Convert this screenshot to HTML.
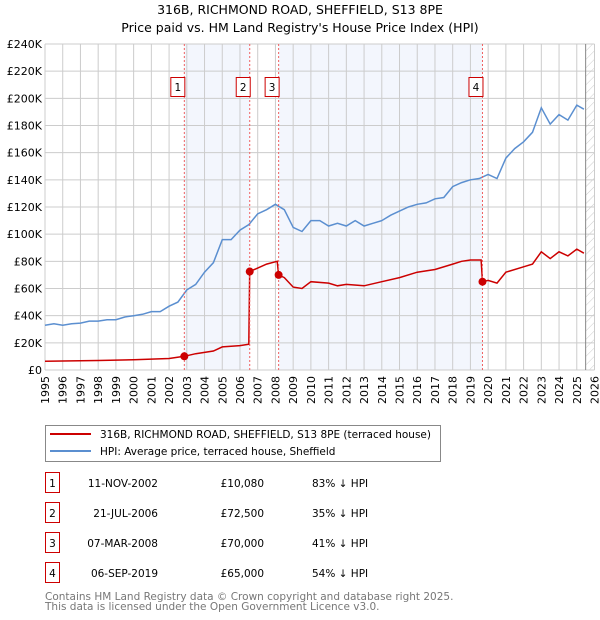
<!DOCTYPE html>
<html><head><meta charset="utf-8"><style>
body{margin:0;background:#fff;font-family:"DejaVu Sans","Liberation Sans",sans-serif;}
#wrap{position:relative;width:600px;height:620px;overflow:hidden;}
</style></head><body><div id="wrap">
<svg id="chart" width="600" height="620" xmlns="http://www.w3.org/2000/svg" font-family="DejaVu Sans, Liberation Sans, sans-serif">
<defs><pattern id="hatch" width="6" height="6" patternUnits="userSpaceOnUse" patternTransform="rotate(45)"><line x1="0" y1="0" x2="0" y2="6" stroke="#ccc" stroke-width="1"/></pattern></defs>
<text x="300" y="14" text-anchor="middle" font-size="12.5">316B, RICHMOND ROAD, SHEFFIELD, S13 8PE</text>
<text x="300" y="32" text-anchor="middle" font-size="12.5">Price paid vs. HM Land Registry's House Price Index (HPI)</text>
<g id="bands"></g><g id="grid"></g><g id="axes"></g><g id="series"></g><g id="marks"></g>
<g>
<rect x="45.5" y="425.5" width="395" height="36" fill="#fff" stroke="#888"/>
<line x1="50" y1="434" x2="91" y2="434" stroke="#cc0000" stroke-width="2"/>
<text x="100" y="438" font-size="10.5">316B, RICHMOND ROAD, SHEFFIELD, S13 8PE (terraced house)</text>
<line x1="50" y1="451" x2="91" y2="451" stroke="#5b8fd0" stroke-width="2"/>
<text x="100" y="455" font-size="10.5">HPI: Average price, terraced house, Sheffield</text>
</g>
<g id="table" font-size="10.5"></g>
<text x="45" y="600" font-size="10.5" fill="#777">Contains HM Land Registry data © Crown copyright and database right 2025.</text>
<text x="45" y="610" font-size="10.5" fill="#777">This data is licensed under the Open Government Licence v3.0.</text>
</svg>
<script>
const yearTicks=[1995,1996,1997,1998,1999,2000,2001,2002,2003,2004,2005,2006,2007,2008,2009,2010,2011,2012,2013,2014,2015,2016,2017,2018,2019,2020,2021,2022,2023,2024,2025,2026];
const priceTicks=[0,20,40,60,80,100,120,140,160,180,200,220,240];
const hpiYears=[1995,1995.5,1996,1996.5,1997,1997.5,1998,1998.5,1999,1999.5,2000,2000.5,2001,2001.5,2002,2002.5,2003,2003.5,2004,2004.5,2005,2005.5,2006,2006.5,2007,2007.5,2008,2008.5,2009,2009.5,2010,2010.5,2011,2011.5,2012,2012.5,2013,2013.5,2014,2014.5,2015,2015.5,2016,2016.5,2017,2017.5,2018,2018.5,2019,2019.5,2020,2020.5,2021,2021.5,2022,2022.5,2023,2023.5,2024,2024.5,2025,2025.4];
const hpiValues=[33,34,33,34,34.5,36,36,37,37,39,40,41,43,43,47,50,59,63,72,79,96,96,103,107,115,118,122,118,105,102,110,110,106,108,106,110,106,108,110,114,117,120,122,123,126,127,135,138,140,141,144,141,156,163,168,175,193,181,188,184,195,192];
const propYears=[1995,1998,2000,2002,2002.86,2003.5,2004.5,2005,2006,2006.5,2006.55,2007,2007.5,2008.1,2008.18,2008.5,2009,2009.5,2010,2011,2011.5,2012,2013,2014,2015,2016,2017,2018,2018.5,2019,2019.6,2019.68,2020,2020.5,2021,2022,2022.5,2023,2023.5,2024,2024.5,2025,2025.4];
const propValues=[6.5,7,7.5,8.5,10.08,12,14,17,18,19,72.5,75,78,80,70,68,61,60,65,64,62,63,62,65,68,72,74,78,80,81,81,65,66,64,72,76,78,87,82,87,84,89,86];
const saleLabels=["1","2","3","4"];
const saleDates=["11-NOV-2002","21-JUL-2006","07-MAR-2008","06-SEP-2019"];
const saleYears=[2002.86,2006.55,2008.18,2019.68];
const saleValues=[10.08,72.5,70,65];
const salePriceText=["£10,080","£72,500","£70,000","£65,000"];
const saleHpiText=["83% ↓ HPI","35% ↓ HPI","41% ↓ HPI","54% ↓ HPI"];

const X0=45,X1=594.5,Y0=370,Y1=44;
const xs=y=>X0+(y-1995)/31*(X1-X0);
const ys=v=>Y0-v/240*(Y0-Y1);
const NS="http://www.w3.org/2000/svg";
function mk(parent,tag,attrs){const e=document.createElementNS(NS,tag);for(const k in attrs)e.setAttribute(k,attrs[k]);document.getElementById(parent).appendChild(e);return e;}

let b=mk('bands','rect',{x:xs(saleYears[0]),y:Y1,width:xs(saleYears[1])-xs(saleYears[0]),height:Y0-Y1,fill:'#f3f6fd'});


b=mk('bands','rect',{x:xs(saleYears[2]),y:Y1,width:xs(saleYears[3])-xs(saleYears[2]),height:Y0-Y1,fill:'#f3f6fd'});


b=mk('bands','rect',{x:xs(2025.5),y:Y1,width:X1-xs(2025.5),height:Y0-Y1,fill:'url(#hatch)'});



yearTicks.forEach(t=>{
 const g=mk('grid','line',{x1:xs(t),x2:xs(t),y1:Y1,y2:Y0,stroke:'#ccc','stroke-width':1});
 
 
 const tx=mk('axes','text',{x:0,y:0,'font-size':11,'text-anchor':'end',transform:`translate(${xs(t)+4},${Y0+6}) rotate(-90)`});
 tx.textContent=t;
 
 
});
priceTicks.forEach(t=>{
 const g=mk('grid','line',{x1:X0,x2:X1,y1:ys(t),y2:ys(t),stroke:'#ccc','stroke-width':1});
 
 
 const tx=mk('axes','text',{x:X0-3,y:ys(t)+4,'font-size':11,'text-anchor':'end'});
 tx.textContent=t===0?'£0':'£'+t+'K';
 
 
});
let nl=mk('axes','line',{x1:xs(2025.5),x2:xs(2025.5),y1:Y1,y2:Y0,stroke:'#888','stroke-width':1});



let p=mk('series','path',{d:'M'+hpiYears.map((y,i)=>xs(y).toFixed(1)+','+ys(hpiValues[i]).toFixed(1)).join('L'),fill:'none',stroke:'#5b8fd0','stroke-width':1.5});


p=mk('series','path',{d:'M'+propYears.map((y,i)=>xs(y).toFixed(1)+','+ys(propValues[i]).toFixed(1)).join('L'),fill:'none',stroke:'#cc0000','stroke-width':1.5});



saleYears.forEach((y,i)=>{
 const l=mk('marks','line',{x1:xs(y),x2:xs(y),y1:Y1,y2:Y0,stroke:'#f06060','stroke-width':1,'stroke-dasharray':'2,2'});
 
 
 const c=mk('marks','circle',{cx:xs(y),cy:ys(saleValues[i]),r:4,fill:'#cc0000'});
 
 
 const r=mk('marks','rect',{x:xs(y)-13.5,y:77.5,width:14,height:19,fill:'#fff',stroke:'#cc0000'});
 
 
 const t=mk('marks','text',{x:xs(y)-6.5,y:91,'font-size':10.5,'text-anchor':'middle'});
 t.textContent=saleLabels[i];
 
 
});

saleLabels.forEach((s,i)=>{
 const cy=483+i*30;
 const r=mk('table','rect',{x:45.5,y:cy-10.5,width:14,height:20,fill:'#fff',stroke:'#cc0000'});
 
 
 let t=mk('table','text',{x:52.5,y:cy+4,'text-anchor':'middle'});t.textContent=s;
 
 
 t=mk('table','text',{x:158,y:cy+4,'text-anchor':'end'});t.textContent=saleDates[i];
 
 
 t=mk('table','text',{x:264,y:cy+4,'text-anchor':'end'});t.textContent=salePriceText[i];
 
 
 t=mk('table','text',{x:312,y:cy+4});t.textContent=saleHpiText[i];
 
 
});
</script>
</div></body></html>
